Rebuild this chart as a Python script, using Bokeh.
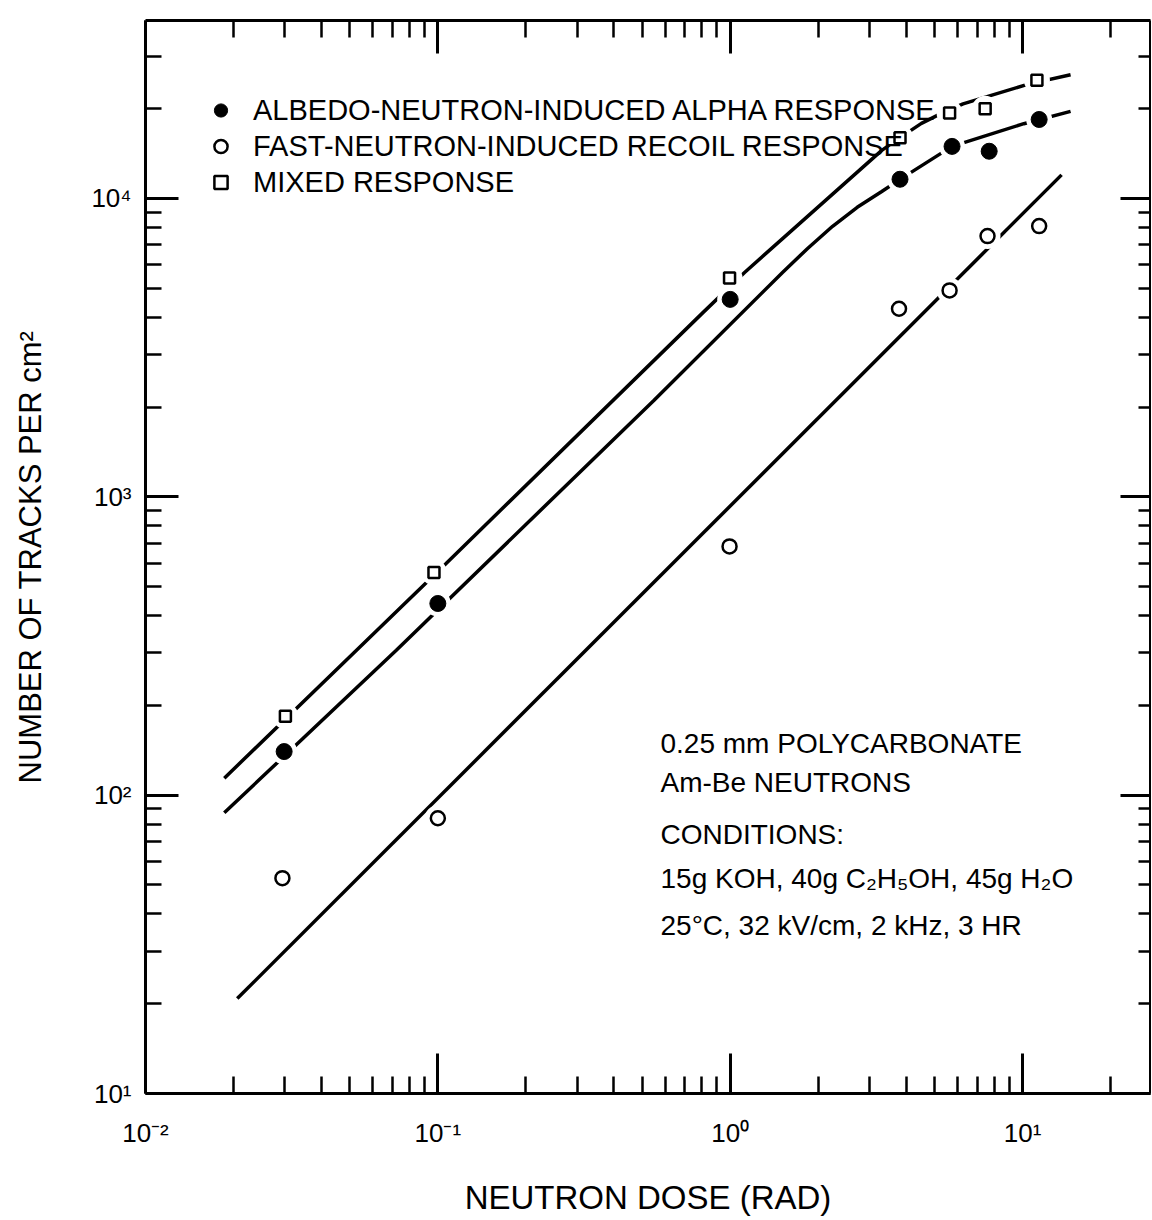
from bokeh.plotting import figure
from bokeh.models import (LogAxis, FixedTicker, CustomJSTickFormatter, Legend,
                          LegendItem, Label, Range1d)
from bokeh.embed import file_html
from bokeh.resources import INLINE

# ---------------- data ----------------
albedo_dose = [0.0298, 0.100, 1.00, 3.81, 5.74, 7.69, 11.4]
albedo_tracks = [140, 439, 4590, 11600, 14950, 14400, 18400]

fast_dose = [0.0294, 0.100, 0.995, 3.78, 5.63, 7.59, 11.4]
fast_tracks = [52.7, 83.7, 682, 4270, 4920, 7480, 8080]

mixed_dose = [0.0301, 0.097, 0.995, 3.81, 5.63, 7.45, 11.2]
mixed_tracks = [184, 558, 5410, 15990, 19330, 20000, 24890]

# hand-drawn curves, read along their path
albedo_curve_dose = [0.0186, 0.0721, 0.548, 1.51, 1.84, 2.24, 2.72, 3.30,
                     3.81, 5.74, 10.1, 14.6]
albedo_curve_tracks = [87.3, 306, 2105, 5650, 6800, 8070, 9340, 10560,
                       11590, 14950, 17810, 19590]

mixed_curve_dose = [0.0186, 0.0527, 0.1065, 0.81, 1.12, 1.64, 3.30, 3.80,
                    4.51, 5.36, 6.26, 10.4, 14.6]
mixed_curve_tracks = [114, 306, 597, 4160, 5650, 7880, 14500, 15970,
                      17860, 19440, 20760, 24130, 26000]

fast_fit_dose = [0.0206, 13.6]
fast_fit_tracks = [20.8, 12000]

x_major_ticks = [0.01, 0.1, 1, 10]
y_major_ticks = [10, 100, 1000, 10000]
x_minor_ticks = [m * d for d in x_major_ticks for m in range(2, 10)]
y_minor_ticks = [m * d for d in y_major_ticks for m in range(2, 10)]

legend_labels = [
    "ALBEDO-NEUTRON-INDUCED ALPHA RESPONSE",
    "FAST-NEUTRON-INDUCED RECOIL RESPONSE",
    "MIXED RESPONSE",
]
note_lines = [
    "0.25 mm POLYCARBONATE",
    "Am-Be NEUTRONS",
    "CONDITIONS:",
    "15g KOH, 40g C\u2082H\u2085OH, 45g H\u2082O",
    "25\u00b0C, 32 kV/cm, 2 kHz, 3 HR",
]
x_title = "NEUTRON DOSE (RAD)"
y_title = "NUMBER OF TRACKS PER cm\u00b2"

FONT = "Liberation Sans"

# ---------------- figure ----------------
p = figure(x_axis_type="log", y_axis_type="log",
           x_range=Range1d(0.01, 27.4), y_range=Range1d(10, 39500),
           frame_width=1005, frame_height=1073,
           min_border_left=145, min_border_right=1,
           min_border_top=20, min_border_bottom=125,
           output_backend="svg", toolbar_location=None)
p.grid.visible = False
p.outline_line_color = None
p.background_fill_color = "white"
p.border_fill_color = "white"

sup_formatter = CustomJSTickFormatter(code="""
const e = Math.round(Math.log10(tick));
const sup = {"-": "\u207b", "0": "\u2070", "1": "\u00b9", "2": "\u00b2", "3": "\u00b3", "4": "\u2074"};
return "10" + String(e).split("").map(c => sup[c]).join("");
""")
blank_formatter = CustomJSTickFormatter(code="return '';")

x_ticker = FixedTicker(ticks=x_major_ticks, minor_ticks=x_minor_ticks)
y_ticker = FixedTicker(ticks=y_major_ticks, minor_ticks=y_minor_ticks)


def style_axis(ax, ticker, major_in, minor_in, labels):
    ax.ticker = ticker
    ax.axis_line_width = 3
    ax.axis_line_color = "black"
    ax.major_tick_in = major_in
    ax.major_tick_out = 0
    ax.minor_tick_in = minor_in
    ax.minor_tick_out = 0
    ax.major_tick_line_width = 3
    ax.minor_tick_line_width = 2.5
    ax.major_tick_line_color = "black"
    ax.minor_tick_line_color = "black"
    if labels:
        ax.formatter = sup_formatter
        ax.major_label_text_font = FONT
        ax.major_label_text_font_size = "26px"
        ax.major_label_text_color = "black"
        ax.axis_label_text_font = FONT
        ax.axis_label_text_font_style = "normal"
        ax.axis_label_text_color = "black"
    else:
        ax.formatter = blank_formatter
        ax.major_label_text_font_size = "2px"
        ax.major_label_standoff = 0
        ax.axis_label_standoff = 0


xb = p.xaxis[0]
yl = p.yaxis[0]
style_axis(xb, x_ticker, 40, 17, True)
style_axis(yl, y_ticker, 33, 16, True)
xb.major_label_standoff = 24
xb.axis_label = x_title
xb.axis_label_text_font_size = "33px"
xb.axis_label_standoff = 28
yl.major_label_standoff = 14
yl.axis_label = y_title
yl.axis_label_text_font_size = "31px"
yl.axis_label_standoff = 40

xt = LogAxis()
style_axis(xt, x_ticker, 33, 17, False)
p.add_layout(xt, "above")
yr = LogAxis()
style_axis(yr, y_ticker, 30, 12, False)
p.add_layout(yr, "right")

# ---------------- curves ----------------
p.line(fast_fit_dose, fast_fit_tracks, line_width=3.5, line_color="black")
p.line(albedo_curve_dose, albedo_curve_tracks, line_width=3.5, line_color="black")
p.line(mixed_curve_dose, mixed_curve_tracks, line_width=3.5, line_color="black")

# white halos that break the curves around the points
for dx, ty in [(albedo_dose, albedo_tracks), (fast_dose, fast_tracks), (mixed_dose, mixed_tracks)]:
    p.scatter(dx, ty, marker="circle", size=26, fill_color="white", line_color=None)

r_albedo = p.scatter(albedo_dose, albedo_tracks, marker="circle", size=16,
                     fill_color="black", line_color="black", line_width=1)
r_fast = p.scatter(fast_dose, fast_tracks, marker="circle", size=14,
                   fill_color="white", line_color="black", line_width=2.5)
r_mixed = p.scatter(mixed_dose, mixed_tracks, marker="square", size=11,
                    fill_color="white", line_color="black", line_width=2.5)

legend = Legend(
    items=[LegendItem(label=legend_labels[0], renderers=[r_albedo]),
           LegendItem(label=legend_labels[1], renderers=[r_fast]),
           LegendItem(label=legend_labels[2], renderers=[r_mixed])],
    location=(59, 893), orientation="vertical",
    glyph_width=33, glyph_height=36, label_height=36, spacing=0,
    padding=0, margin=0, label_standoff=16,
    border_line_color=None, background_fill_alpha=0,
    label_text_font=FONT, label_text_font_size="29px", label_text_color="black",
)
p.add_layout(legend)

for text, yb in zip(note_lines, [350, 311, 259, 215, 168]):
    p.add_layout(Label(x=515, y=yb, x_units="screen", y_units="screen", text=text,
                       text_font=FONT, text_font_size="28px", text_color="black",
                       text_baseline="alphabetic"))

open("out.html", "w").write(file_html(p, INLINE))
